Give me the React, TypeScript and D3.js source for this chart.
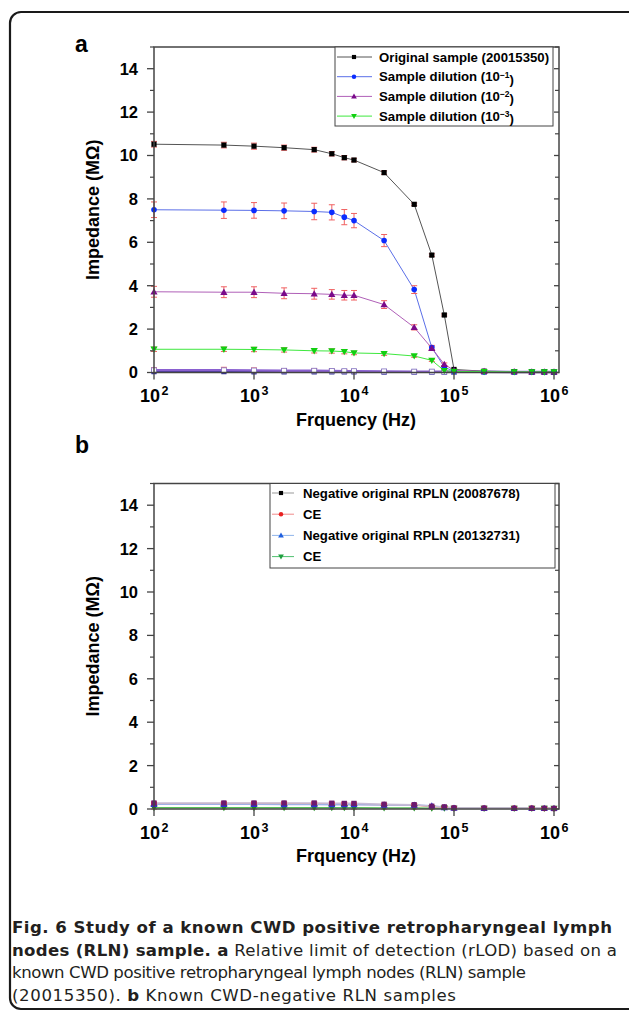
import React, { useLayoutEffect, useRef, useState } from "react";
import * as d3 from "d3";

const freqs = [100, 500, 1000, 2000, 4000, 6000, 8000, 10000, 20000, 40000, 60000, 80000, 100000, 200000, 400000, 600000, 800000, 1000000];

// Panel a
const original = [10.52, 10.48, 10.43, 10.36, 10.27, 10.08, 9.9, 9.79, 9.21, 7.75, 5.41, 2.65, 0.14, 0.06, 0.04, 0.03, 0.03, 0.02];
const originalErr = [0.13, 0.13, 0.14, 0.12, 0.11, 0.1, 0.1, 0.08, 0.08, 0.06, 0.06, 0.05, 0.03, 0.02, 0.02, 0.02, 0.02, 0.02];
const dilution1 = [7.5, 7.48, 7.47, 7.45, 7.42, 7.38, 7.16, 7.0, 6.08, 3.82, 1.15, 0.25, 0.05, 0.03, 0.02, 0.02, 0.02, 0.02];
const dilution1Err = [0.36, 0.38, 0.36, 0.36, 0.38, 0.35, 0.35, 0.33, 0.28, 0.18, 0.1, 0.05, 0.02, 0.02, 0.02, 0.02, 0.02, 0.02];
const dilution2 = [3.72, 3.7, 3.7, 3.65, 3.63, 3.6, 3.56, 3.56, 3.13, 2.08, 1.12, 0.38, 0.1, 0.05, 0.04, 0.03, 0.03, 0.03];
const dilution2Err = [0.25, 0.25, 0.25, 0.25, 0.25, 0.22, 0.22, 0.22, 0.18, 0.12, 0.1, 0.06, 0.03, 0.02, 0.02, 0.02, 0.02, 0.02];
const dilution3 = [1.07, 1.07, 1.06, 1.04, 1.0, 0.99, 0.96, 0.9, 0.87, 0.76, 0.56, 0.08, 0.05, 0.04, 0.03, 0.03, 0.02, 0.02];
const dilution3Err = [0.1, 0.1, 0.1, 0.1, 0.1, 0.1, 0.1, 0.08, 0.08, 0.06, 0.05, 0.03, 0.02, 0.02, 0.02, 0.02, 0.02, 0.02];
const controlA = [0.1, 0.1, 0.09, 0.08, 0.08, 0.07, 0.06, 0.06, 0.05, 0.04, 0.04, 0.03, 0.03, 0.03, 0.02, 0.02, 0.02, 0.02];
const controlAErr = [0.12, 0.14, 0.12, 0.1, 0.1, 0.08, 0.08, 0.08, 0.06, 0.05, 0.05, 0.04, 0.03, 0.03, 0.02, 0.02, 0.02, 0.02];
const controlB = [0.04, 0.04, 0.03, 0.03, 0.03, 0.03, 0.03, 0.03, 0.02, 0.02, 0.02, 0.02, 0.02, 0.02, 0.02, 0.02, 0.02, 0.02];

// Panel b
const negative1 = [0.28, 0.28, 0.28, 0.28, 0.28, 0.27, 0.26, 0.26, 0.22, 0.2, 0.13, 0.1, 0.05, 0.04, 0.03, 0.03, 0.03, 0.02];
const ce1 = [0.24, 0.25, 0.25, 0.25, 0.24, 0.24, 0.23, 0.22, 0.2, 0.18, 0.1, 0.08, 0.05, 0.04, 0.04, 0.04, 0.03, 0.03];
const negative2 = [0.22, 0.22, 0.22, 0.21, 0.21, 0.2, 0.2, 0.2, 0.18, 0.18, 0.15, 0.07, 0.04, 0.03, 0.03, 0.03, 0.03, 0.03];
const ce2 = [0.06, 0.06, 0.06, 0.06, 0.06, 0.06, 0.06, 0.06, 0.05, 0.05, 0.04, 0.04, 0.03, 0.03, 0.03, 0.03, 0.03, 0.03];
const smallErr = [0.06, 0.06, 0.06, 0.06, 0.06, 0.06, 0.06, 0.06, 0.05, 0.05, 0.04, 0.04, 0.03, 0.03, 0.03, 0.03, 0.03, 0.03];

const yTicks = [0, 2, 4, 6, 8, 10, 12, 14];
const yMinor = [1, 3, 5, 7, 9, 11, 13, 15];
const xTickExps = [2, 3, 4, 5, 6];

const legendA = ["Original sample (20015350)", "Sample dilution (10", "Sample dilution (10", "Sample dilution (10"];
const legendAExp = ["", "−1", "−2", "−3"];
const legendB = ["Negative original RPLN (20087678)", "CE", "Negative original RPLN (20132731)", "CE"];

type Series = {
  values: number[];
  err?: number[];
  line: string;
  marker: string;
  shape: "square" | "circle" | "tri" | "dtri" | "open";
  lw?: number;
};

const FONT = "'Liberation Sans', Arial, Helvetica, sans-serif";
const AXIS = "#444";
const ERR = "#f06060";

function Marker({ x, y, shape, color, s = 1 }: { x: number; y: number; shape: string; color: string; s?: number }) {
  if (shape === "square") return <rect x={x - 2.6 * s} y={y - 2.6 * s} width={5.2 * s} height={5.2 * s} fill={color} />;
  if (shape === "open") return <rect x={x - 2.5} y={y - 2.5} width={5} height={5} fill="#fff" stroke="#8070c0" strokeWidth={0.8} />;
  if (shape === "circle") return <circle cx={x} cy={y} r={2.8 * s} fill={color} />;
  if (shape === "tri") {
    const r = 3.6 * s;
    return <path d={`M${x},${y - r}L${x + r},${y + r * 0.75}L${x - r},${y + r * 0.75}Z`} fill={color} />;
  }
  const r = 3.6 * s;
  return <path d={`M${x},${y + r}L${x + r},${y - r * 0.75}L${x - r},${y - r * 0.75}Z`} fill={color} />;
}

function Panel({ top, series, legend }: { top: number; series: Series[]; legend: React.ReactNode }) {
  const left = 154;
  const right = 559;
  const bottom = top + 325.5;
  const x = d3.scaleLog().domain([100, 1e6]).range([left, 554]);
  const y = d3.scaleLinear().domain([0, 15]).range([bottom, top]);
  const line = d3
    .line<number>()
    .x((_, i) => x(freqs[i]))
    .y((v) => y(v));
  return (
    <g>
      {series.map((s, k) => (
        <path key={"l" + k} d={line(s.values) || ""} fill="none" stroke={s.line} strokeWidth={s.lw ?? 1} />
      ))}
      {series.map((s, k) =>
        s.err ? (
          <g key={"e" + k}>
            {s.values.map((v, i) => {
              const cx = x(freqs[i]);
              const y1 = y(v + s.err![i]);
              const y2 = y(Math.max(0, v - s.err![i]));
              return (
                <g key={i} stroke={ERR} strokeWidth={1}>
                  <line x1={cx} x2={cx} y1={y1} y2={y2} />
                  <line x1={cx - 3} x2={cx + 3} y1={y1} y2={y1} />
                  <line x1={cx - 3} x2={cx + 3} y1={y2} y2={y2} />
                </g>
              );
            })}
          </g>
        ) : null
      )}
      {series.map((s, k) => (
        <g key={"m" + k}>
          {s.values.map((v, i) => (
            <Marker key={i} x={x(freqs[i])} y={y(v)} shape={s.shape} color={s.marker} />
          ))}
        </g>
      ))}
      <rect x={left} y={top} width={right - left} height={bottom - top} fill="none" stroke={AXIS} strokeWidth={1.5} />
      {yTicks.map((t) => (
        <g key={"yt" + t}>
          <line x1={left - 7} x2={left} y1={y(t)} y2={y(t)} stroke={AXIS} strokeWidth={1.3} />
          <line x1={right - 5} x2={right} y1={y(t)} y2={y(t)} stroke={AXIS} strokeWidth={1.3} />
          <text x={left - 16} y={y(t)} dy="0.36em" textAnchor="end" fontFamily={FONT} fontWeight="bold" fontSize={16.5}>
            {t}
          </text>
        </g>
      ))}
      {yMinor.map((t) => (
        <g key={"ym" + t}>
          <line x1={left - 4} x2={left} y1={y(t)} y2={y(t)} stroke={AXIS} strokeWidth={1.2} />
          <line x1={right - 4} x2={right} y1={y(t)} y2={y(t)} stroke={AXIS} strokeWidth={1.2} />
        </g>
      ))}
      {xTickExps.map((e) => {
        const px = x(Math.pow(10, e));
        return (
          <g key={"xt" + e}>
            <line x1={px} x2={px} y1={bottom} y2={bottom + 7} stroke={AXIS} strokeWidth={1.3} />
            <text x={px - 4} y={bottom + 29.5} textAnchor="middle" fontFamily={FONT} fontWeight="bold" fontSize={18}>
              10
            </text>
            <text x={px + 11} y={bottom + 22.5} textAnchor="middle" fontFamily={FONT} fontWeight="bold" fontSize={12.5}>
              {e}
            </text>
          </g>
        );
      })}
      <text x={356} y={bottom + 53} textAnchor="middle" fontFamily={FONT} fontWeight="bold" fontSize={18}>
        Frquency (Hz)
      </text>
      <text
        transform={`translate(99,${(top + bottom) / 2}) rotate(-90)`}
        textAnchor="middle"
        fontFamily={FONT}
        fontWeight="bold"
        fontSize={18}
      >
        Impedance (MΩ)
      </text>
      {legend}
    </g>
  );
}

export default function App() {
  const topA = 47;
  const topB = 483.5;
  const [capFs, setCapFs] = useState(15);
  const [fitted, setFitted] = useState(false);
  const l1 = useRef<SVGTextElement>(null);
  const l3 = useRef<SVGTextElement>(null);
  useLayoutEffect(() => {
    if (fitted || !l1.current || !l3.current) return;
    const n1 = l1.current.getComputedTextLength();
    const n3 = l3.current.getComputedTextLength();
    if (n1 > 0 && n3 > 0) {
      const f1 = (capFs * 600) / n1;
      const f3 = (capFs * 514) / n3;
      setCapFs(Math.min(17.5, (f1 + f3) / 2));
    }
    setFitted(true);
  }, [fitted, capFs]);

  const seriesA: Series[] = [
    { values: controlB, line: "#202090", marker: "#202090", shape: "square", lw: 2 },
    { values: controlA, err: controlAErr, line: "#8a60d0", marker: "#fff", shape: "open", lw: 2.5 },
    { values: original, err: originalErr, line: "#555", marker: "#000", shape: "square" },
    { values: dilution1, err: dilution1Err, line: "#5b6fe8", marker: "#0a2cff", shape: "circle" },
    { values: dilution2, err: dilution2Err, line: "#b060b8", marker: "#7a0a8a", shape: "tri" },
    { values: dilution3, err: dilution3Err, line: "#3ee83e", marker: "#10d010", shape: "dtri" },
  ];
  const seriesB: Series[] = [
    { values: ce2, err: smallErr, line: "#58c058", marker: "#178a17", shape: "dtri", lw: 1.5 },
    { values: ce1, err: smallErr, line: "#f0a070", marker: "#e8202a", shape: "circle", lw: 1.5 },
    { values: negative2, line: "#a0b0e8", marker: "#3030d0", shape: "tri", lw: 1.5 },
    { values: negative1, err: smallErr, line: "#c8bcd8", marker: "#6a1a70", shape: "square", lw: 1.5 },
  ];
  const legACol = [
    { line: "#555", marker: "#000", shape: "square" },
    { line: "#5b6fe8", marker: "#0a2cff", shape: "circle" },
    { line: "#b060b8", marker: "#7a0a8a", shape: "tri" },
    { line: "#3ee83e", marker: "#10d010", shape: "dtri" },
  ];
  const legBCol = [
    { line: "#999", marker: "#000", shape: "square" },
    { line: "#f08a8a", marker: "#e82020", shape: "circle" },
    { line: "#90b4ea", marker: "#2060e0", shape: "tri" },
    { line: "#50c070", marker: "#20a040", shape: "dtri" },
  ];
  const legendANode = (
    <g>
      <rect x={335} y={topA} width={218} height={79} fill="#fff" stroke={AXIS} strokeWidth={1} />
      {legendA.map((t, i) => {
        const ly = topA + 10 + i * 19.7;
        return (
          <g key={i}>
            <line x1={337} x2={372} y1={ly} y2={ly} stroke={legACol[i].line} strokeWidth={1} />
            <Marker x={354} y={ly} shape={legACol[i].shape} color={legACol[i].marker} s={0.8} />
            <text x={379} y={ly} dy="0.36em" fontFamily={FONT} fontWeight="bold" fontSize={13.2}>
              {t}
              {legendAExp[i] ? (
                <>
                  <tspan dy="-0.45em" fontSize={8.5}>
                    {legendAExp[i]}
                  </tspan>
                  <tspan dy="0.45em">)</tspan>
                </>
              ) : null}
            </text>
          </g>
        );
      })}
    </g>
  );
  const legendBNode = (
    <g>
      <rect x={270} y={topB} width={285} height={84.5} fill="#fff" stroke={AXIS} strokeWidth={1} />
      {legendB.map((t, i) => {
        const ly = topB + 9.5 + i * 21.2;
        return (
          <g key={i}>
            <line x1={272} x2={294} y1={ly} y2={ly} stroke={legBCol[i].line} strokeWidth={1} />
            <Marker x={281} y={ly} shape={legBCol[i].shape} color={legBCol[i].marker} s={0.8} />
            <text x={303} y={ly} dy="0.36em" fontFamily={FONT} fontWeight="bold" fontSize={13.2}>
              {t}
            </text>
          </g>
        );
      })}
    </g>
  );
  const CAP = "'DejaVu Sans', 'Open Sans', sans-serif";
  const tl = (n: number) => (fitted ? n : undefined);
  return (
    <svg
      width={629}
      height={1012}
      style={{ position: "absolute", left: 0, top: 0, background: "#fff" }}
      xmlns="http://www.w3.org/2000/svg"
    >
      <rect x={10} y={12} width={660} height={997} rx={11} fill="#fff" stroke="#1a1a1a" strokeWidth={2.2} />
      <text x={75} y={52} fontFamily={FONT} fontWeight="bold" fontSize={23}>
        a
      </text>
      <text x={75} y={453} fontFamily={FONT} fontWeight="bold" fontSize={23}>
        b
      </text>
      <Panel top={topA} series={seriesA} legend={legendANode} />
      <Panel top={topB} series={seriesB} legend={legendBNode} />
      <g fontFamily={CAP} fontSize={capFs} fill="#231f20">
        <text ref={l1} x={12} y={933} fontWeight="bold" textLength={tl(600)} lengthAdjust="spacing">
          Fig. 6 Study of a known CWD positive retropharyngeal lymph
        </text>
        <text x={12} y={955.5} textLength={tl(605)} lengthAdjust="spacing">
          <tspan fontWeight="bold">nodes (RLN) sample. a</tspan> Relative limit of detection (rLOD) based on a
        </text>
        <text ref={l3} x={12} y={978} textLength={tl(514)} lengthAdjust="spacing">
          known CWD positive retropharyngeal lymph nodes (RLN) sample
        </text>
        <text x={12} y={1000.5} textLength={tl(444)} lengthAdjust="spacing">
          (20015350). <tspan fontWeight="bold">b</tspan> Known CWD-negative RLN samples
        </text>
      </g>
    </svg>
  );
}
